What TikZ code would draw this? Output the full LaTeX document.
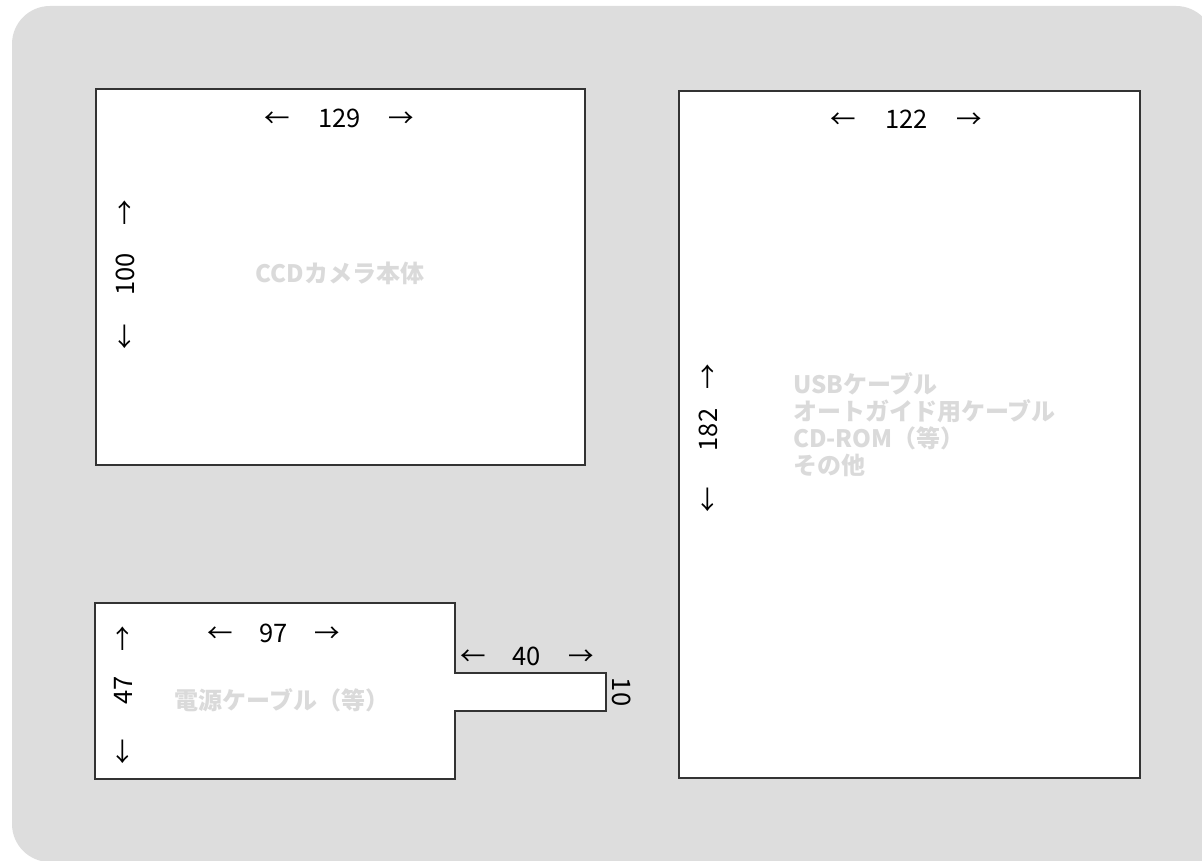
\documentclass[tikz,border=0pt]{standalone}
\usepackage{fontspec}
\setmainfont{Noto Sans CJK JP}
\definecolor{bgc}{RGB}{221,221,221}
\definecolor{lblc}{RGB}{218,218,218}
\definecolor{linec}{RGB}{51,51,51}
\newcommand{\dimlab}[3]{←\hspace{#1pt}#2\hspace{#3pt}→}
\begin{document}
\begin{tikzpicture}[x=1pt,y=-1pt,
  boxst/.style={draw=linec, line width=1.2pt, fill=white, inner sep=0pt, outer sep=0pt, anchor=north west},
  dimtxt/.style={font=\fontsize{25.5}{28}\selectfont, inner sep=0pt, text=black},
  greylbl/.style={font=\fontsize{24}{27}\selectfont\bfseries, text=lblc, inner sep=0pt, align=left}]
\useasboundingbox (0,0) rectangle (1202,861);
\begin{scope}
\clip (0,0) rectangle (1202,861);
\fill[bgc, rounded corners=38pt] (12,6) rectangle (1214,862);
\fill[bgc] (1100,780) rectangle (1214,862);
\end{scope}
% camera box
\node[boxst, minimum width=489pt, minimum height=376pt] (camera) at (96,89) {};
% cable box
\node[boxst, minimum width=461pt, minimum height=687pt] (cables) at (679,91) {};
% power cable shape
\draw[draw=linec, line width=1.2pt, fill=white] (95,603) coordinate (pwr) -- (455,603) -- (455,673) -- (606,673) -- (606,711) -- (455,711) -- (455,779) -- (95,779) -- cycle;
% dimension labels
\node[dimtxt] (d129) at (339.5,118) {\dimlab{28}{129}{28}};
\node[dimtxt, rotate=90] (d100) at (125,274.5) {\dimlab{28}{100}{28}};
\node[dimtxt] (d122) at (906.5,119) {\dimlab{29}{122}{29}};
\node[dimtxt, rotate=90] (d182) at (708,438.5) {\dimlab{36}{182}{19}};
\node[dimtxt] (d97) at (274,633) {\dimlab{26.5}{97}{26.5}};
\node[dimtxt, rotate=90] (d47) at (123,695) {\dimlab{34.5}{47}{24.5}};
\node[dimtxt] (d40) at (527,656) {\dimlab{27}{40}{27}};
\node[dimtxt, rotate=-90] (d10) at (622,692) {10};
% grey labels
\node[greylbl] (lcam) at (340,273) {CCDカメラ本体};
\node[greylbl] (lpwr) at (282,700) {電源ケーブル（等）};
\node[greylbl, anchor=west] (lusb) at (793,425) {USBケーブル\\オートガイド用ケーブル\\CD-ROM（等）\\その他};
\end{tikzpicture}
\end{document}
